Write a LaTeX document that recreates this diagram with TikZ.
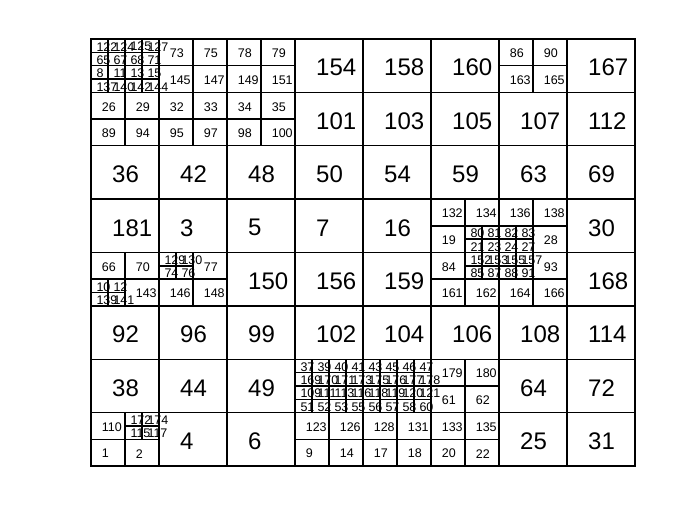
\documentclass[tikz,border=0pt]{standalone}
\usepackage{fontspec}
\setmainfont{Liberation Sans}

\tikzset{
  cellbox/.style={draw=black, line width=1.4pt},
  biglab/.style={anchor=west, inner sep=0pt, font=\fontsize{24}{24}\selectfont},
  smalllab/.style={anchor=west, inner sep=0pt, font=\fontsize{12.5}{12.5}\selectfont},
}

% one leaf of the quadtree: column, row (in quarter cells), size, label
\newcommand{\leaf}[4]{%
  \draw[cellbox] ({91+17*#1},{39+13.34375*#2}) rectangle ++({17*#3},{13.34375*#3});
  \ifnum#3=4
    \node[biglab] (n#4) at ({91+17*#1+21},{39+13.34375*(#2+2)+2}) {#4};
  \else
    \node[smalllab] (n#4) at ({91+17*#1+5.3*#3},{39+13.34375*(#2+#3/2)+1}) {#4};
  \fi}

\begin{document}
\begin{tikzpicture}[x=1pt, y=-1pt]
  \useasboundingbox (0,0) rectangle (700,525);
  % first row of blocks
  \foreach \c/\r/\lab in {0/0/122, 1/0/124, 2/0/125, 3/0/127,
      0/1/65, 1/1/67, 2/1/68, 3/1/71, 0/2/8, 1/2/11, 2/2/13, 3/2/15,
      0/3/137, 1/3/140, 2/3/142, 3/3/144}
    \leaf{\c}{\r}{1}{\lab};
  \foreach \c/\r/\lab in {4/0/73, 6/0/75, 4/2/145, 6/2/147,
      8/0/78, 10/0/79, 8/2/149, 10/2/151,
      24/0/86, 26/0/90, 24/2/163, 26/2/165}
    \leaf{\c}{\r}{2}{\lab};
  \foreach \c/\lab in {12/154, 16/158, 20/160, 28/167}
    \leaf{\c}{0}{4}{\lab};
  % second row
  \foreach \c/\r/\lab in {0/4/26, 2/4/29, 0/6/89, 2/6/94,
      4/4/32, 6/4/33, 4/6/95, 6/6/97, 8/4/34, 10/4/35, 8/6/98, 10/6/100}
    \leaf{\c}{\r}{2}{\lab};
  \foreach \c/\lab in {12/101, 16/103, 20/105, 24/107, 28/112}
    \leaf{\c}{4}{4}{\lab};
  % third row
  \foreach \c/\lab in {0/36, 4/42, 8/48, 12/50, 16/54, 20/59, 24/63, 28/69}
    \leaf{\c}{8}{4}{\lab};
  % fourth row
  \foreach \c/\lab in {0/181, 4/3, 8/5, 12/7, 16/16, 28/30}
    \leaf{\c}{12}{4}{\lab};
  \foreach \c/\r/\lab in {20/12/132, 22/12/134, 20/14/19,
      24/12/136, 26/12/138, 26/14/28}
    \leaf{\c}{\r}{2}{\lab};
  \foreach \c/\r/\lab in {22/14/80, 23/14/81, 22/15/21, 23/15/23,
      24/14/82, 25/14/83, 24/15/24, 25/15/27}
    \leaf{\c}{\r}{1}{\lab};
  % fifth row
  \foreach \c/\r/\lab in {0/16/66, 2/16/70, 2/18/143, 6/16/77, 4/18/146, 6/18/148,
      20/16/84, 20/18/161, 22/18/162, 26/16/93, 24/18/164, 26/18/166}
    \leaf{\c}{\r}{2}{\lab};
  \foreach \c/\r/\lab in {0/18/10, 1/18/12, 0/19/139, 1/19/141,
      4/16/129, 5/16/130, 4/17/74, 5/17/76,
      22/16/152, 23/16/153, 22/17/85, 23/17/87,
      24/16/155, 25/16/157, 24/17/88, 25/17/91}
    \leaf{\c}{\r}{1}{\lab};
  \foreach \c/\lab in {8/150, 12/156, 16/159, 28/168}
    \leaf{\c}{16}{4}{\lab};
  % sixth row
  \foreach \c/\lab in {0/92, 4/96, 8/99, 12/102, 16/104, 20/106, 24/108, 28/114}
    \leaf{\c}{20}{4}{\lab};
  % seventh row
  \foreach \c/\lab in {0/38, 4/44, 8/49, 24/64, 28/72}
    \leaf{\c}{24}{4}{\lab};
  \foreach \c/\r/\lab in {12/24/37, 13/24/39, 14/24/40, 15/24/41,
      16/24/43, 17/24/45, 18/24/46, 19/24/47,
      12/25/169, 13/25/170, 14/25/171, 15/25/173,
      16/25/175, 17/25/176, 18/25/177, 19/25/178,
      12/26/109, 13/26/111, 14/26/113, 15/26/116,
      16/26/118, 17/26/119, 18/26/120, 19/26/121,
      12/27/51, 13/27/52, 14/27/53, 15/27/55,
      16/27/56, 17/27/57, 18/27/58, 19/27/60}
    \leaf{\c}{\r}{1}{\lab};
  \foreach \c/\r/\lab in {20/24/179, 22/24/180, 20/26/61, 22/26/62}
    \leaf{\c}{\r}{2}{\lab};
  % last row
  \foreach \c/\r/\lab in {0/28/110, 0/30/1, 2/30/2,
      12/28/123, 14/28/126, 12/30/9, 14/30/14,
      16/28/128, 18/28/131, 16/30/17, 18/30/18,
      20/28/133, 22/28/135, 20/30/20, 22/30/22}
    \leaf{\c}{\r}{2}{\lab};
  \foreach \c/\r/\lab in {2/28/172, 3/28/174, 2/29/115, 3/29/117}
    \leaf{\c}{\r}{1}{\lab};
  \foreach \c/\lab in {4/4, 8/6, 24/25, 28/31}
    \leaf{\c}{28}{4}{\lab};
\end{tikzpicture}
\end{document}
